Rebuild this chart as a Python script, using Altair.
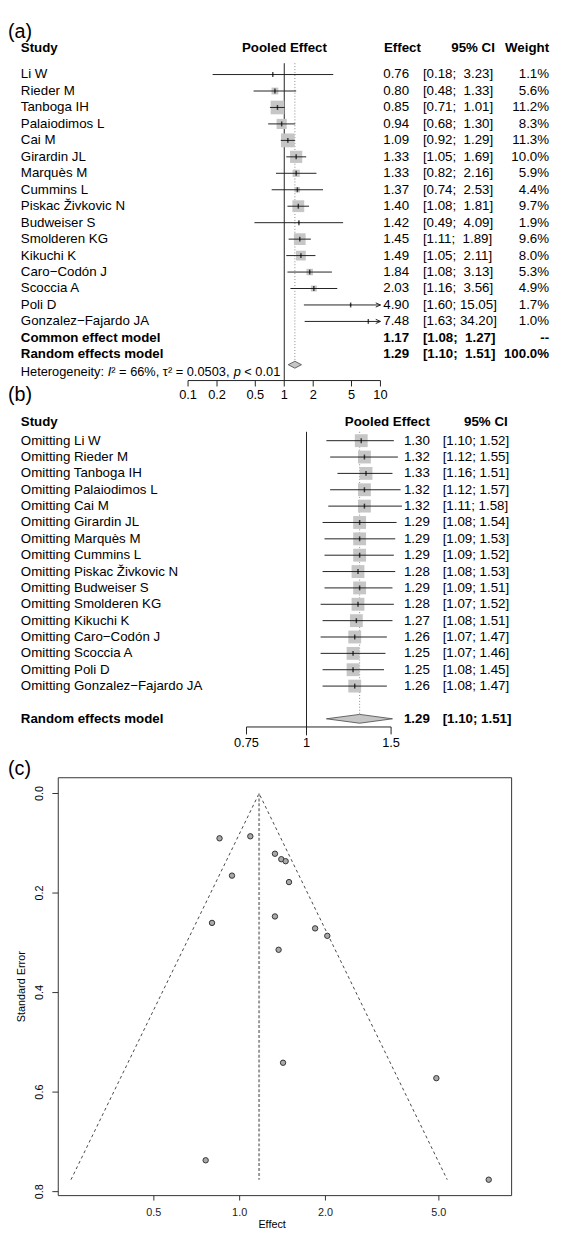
import altair as alt
import pandas as pd

FONT = "Liberation Sans"
M = 8  # body margin of the page


def px(p):
    """page pixel -> chart pixel"""
    return p - M


# ---------------- data: panel (a) ----------------
studies = ["Li W", "Rieder M", "Tanboga IH", "Palaiodimos L", "Cai M", "Girardin JL",
           "Marquès M", "Cummins L", "Piskac Živkovic N", "Budweiser S", "Smolderen KG",
           "Kikuchi K", "Caro−Codón J", "Scoccia A", "Poli D", "Gonzalez−Fajardo JA"]
effect = [0.76, 0.80, 0.85, 0.94, 1.09, 1.33, 1.33, 1.37, 1.40, 1.42, 1.45, 1.49, 1.84, 2.03, 4.90, 7.48]
ci_low = [0.18, 0.48, 0.71, 0.68, 0.92, 1.05, 0.82, 0.74, 1.08, 0.49, 1.11, 1.05, 1.08, 1.16, 1.60, 1.63]
ci_high = [3.23, 1.33, 1.01, 1.30, 1.29, 1.69, 2.16, 2.53, 1.81, 4.09, 1.89, 2.11, 3.13, 3.56, 15.05, 34.20]
weight = [1.1, 5.6, 11.2, 8.3, 11.3, 10.0, 5.9, 4.4, 9.7, 1.9, 9.6, 8.0, 5.3, 4.9, 1.7, 1.0]
std_err = [0.737, 0.260, 0.090, 0.165, 0.086, 0.121, 0.247, 0.314, 0.132, 0.541, 0.136, 0.178,
           0.271, 0.286, 0.572, 0.776]

common_model = [1.17, 1.08, 1.27]   # estimate, lower, upper
random_model = [1.29, 1.10, 1.51]
model_labels = ["Common effect model", "Random effects model"]
model_weights = ["--", "100.0%"]
# heterogeneity line, split where the italic letters are
het_parts = ["Heterogeneity:", "I", "² = 66%, τ² = 0.0503,", "p", "< 0.01"]
het_italic = [False, True, False, True, False]
null_effect = 1.0

a_ticks = [0.1, 0.2, 0.5, 1, 2, 5, 10]
a_tick_labels = ["0.1", "0.2", "0.5", "1", "2", "5", "10"]
a_headers = ["Study", "Pooled Effect", "Effect", "95% CI", "Weight"]

# ---------------- data: panel (b) ----------------
omit_effect = [1.30, 1.32, 1.33, 1.32, 1.32, 1.29, 1.29, 1.29, 1.28, 1.29, 1.28, 1.27, 1.26, 1.25, 1.25, 1.26]
omit_low = [1.10, 1.12, 1.16, 1.12, 1.11, 1.08, 1.09, 1.09, 1.08, 1.09, 1.07, 1.08, 1.07, 1.07, 1.08, 1.08]
omit_high = [1.52, 1.55, 1.51, 1.57, 1.58, 1.54, 1.53, 1.52, 1.53, 1.51, 1.52, 1.51, 1.47, 1.46, 1.45, 1.47]
b_ticks = [0.75, 1, 1.5]
b_tick_labels = ["0.75", "1", "1.5"]
b_headers = ["Study", "Pooled Effect", "95% CI"]

# ---------------- data: panel (c) ----------------
funnel_center = 1.17
funnel_se_max = 0.776
funnel_edges = [0.256, 5.35]
c_x_ticks = [0.5, 1.0, 2.0, 5.0]
c_x_labels = ["0.5", "1.0", "2.0", "5.0"]
c_y_ticks = [0.0, 0.2, 0.4, 0.6, 0.8]
c_y_labels = ["0.0", "0.2", "0.4", "0.6", "0.8"]

# ---------------- scales (pixel ranges give the layout) ----------------
XA = alt.Scale(type="log", domain=[0.1, 10], range=[px(190.7), px(385.9)], nice=False)
YA = alt.Scale(domain=[0, 1], range=[px(66.5), px(66.5 + 16.7)], nice=False, zero=False)
XB = alt.Scale(type="log", domain=[0.75, 1.5], range=[px(250), px(396.7)], nice=False)
YB = alt.Scale(domain=[0, 1], range=[px(438), px(438 + 16.6)], nice=False, zero=False)
XC_DOM = [0.231, 9.0]
YC_DOM = [-0.0317, 0.808]
XC = alt.Scale(type="log", domain=XC_DOM, range=[px(59), px(519)], nice=False)
YC = alt.Scale(domain=YC_DOM, range=[px(780), px(1204)], nice=False, zero=False)

INK = "#222222"
BOX = "#c6c6c6"


def X(f, s):
    return alt.X(f, type="quantitative", scale=s, axis=None)


def Y(f, s):
    return alt.Y(f, type="quantitative", scale=s, axis=None)


def txt(df, x, y, ys=None, align="left", size=13.5, bold=False, angle=None, italic=False, **kw):
    props = dict(align=align, baseline="middle", font=FONT, fontSize=size,
                 fontWeight="bold" if bold else "normal", color="black", **kw)
    if italic:
        props["fontStyle"] = "italic"
    if angle is not None:
        props["angle"] = angle
    enc = dict(text="t:N")
    enc["x"] = x
    enc["y"] = Y(y, ys) if ys is not None else y
    return alt.Chart(df).mark_text(**props).encode(**enc)


def fmt_ci(lo, hi, wide):
    sep = "; \u00a0" if (wide and hi < 10) else "; "
    return f"[{lo:.2f}{sep}{hi:.2f}]"


layers = []

# ======================= panel (a) =======================
dfa = pd.DataFrame({"study": studies, "eff": effect, "lo": ci_low, "hi": ci_high, "w": weight})
dfa["row"] = range(len(dfa))
dfa["hic"] = dfa["hi"].clip(upper=a_ticks[-1])
dfa["t_eff"] = [f"{v:.2f}" for v in effect]
dfa["t_ci"] = [fmt_ci(l, h, True) for l, h in zip(ci_low, ci_high)]
dfa["t_w"] = [f"{w:.1f}%" for w in weight]

layers.append(txt(pd.DataFrame({"t": ["(a)"]}), alt.value(px(8)), alt.value(px(23)), size=20))
hdr_a = pd.DataFrame({"t": a_headers, "row": [-1.6] * 5})
layers.append(txt(hdr_a.iloc[[0]], alt.value(px(21)), "row", YA, bold=True))
layers.append(txt(hdr_a.iloc[[1]], alt.value(px(288.5)), "row", YA, align="center", bold=True))
layers.append(txt(hdr_a.iloc[[2]], alt.value(px(427)), "row", YA, align="right", bold=True))
layers.append(txt(hdr_a.iloc[[3]], alt.value(px(502)), "row", YA, align="right", bold=True))
layers.append(txt(hdr_a.iloc[[4]], alt.value(px(557)), "row", YA, align="right", bold=True))

# reference lines
layers.append(alt.Chart(pd.DataFrame({"x": [null_effect]})).mark_rule(color=INK, strokeWidth=1).encode(
    x=X("x", XA), y=alt.value(px(55)), y2=alt.value(px(377))))
layers.append(alt.Chart(pd.DataFrame({"x": [random_model[0]]})).mark_rule(
    color="#888888", strokeWidth=1, strokeDash=[1, 2]).encode(
    x=X("x", XA), y=alt.value(px(55)), y2=alt.value(px(357))))

# squares, CI lines, point ticks, arrows
layers.append(alt.Chart(dfa).mark_point(shape="square", filled=True, color=BOX, opacity=1).encode(
    x=X("eff", XA), y=Y("row", YA),
    size=alt.Size("w:Q", scale=alt.Scale(type="pow", exponent=2, domain=[0, 11.3], range=[0, 196]),
                  legend=None)))
layers.append(alt.Chart(dfa).mark_rule(color=INK, strokeWidth=1).encode(
    x=X("lo", XA), x2="hic", y=Y("row", YA)))
layers.append(alt.Chart(dfa).mark_tick(orient="vertical", color="black", size=5, thickness=1.5).encode(
    x=X("eff", XA), y=Y("row", YA)))
layers.append(alt.Chart(dfa[dfa["hi"] > a_ticks[-1]]).mark_point(
    shape="M -1 -0.45 L 0 0 L -1 0.45", filled=False, color=INK, strokeWidth=1, size=90, opacity=1).encode(
    x=X("hic", XA), y=Y("row", YA)))

# study texts
layers.append(txt(dfa.assign(t=dfa["study"]), alt.value(px(21)), "row", YA))
layers.append(txt(dfa.assign(t=dfa["t_eff"]), alt.value(px(415)), "row", YA, align="right"))
layers.append(txt(dfa.assign(t=dfa["t_ci"]), alt.value(px(429)), "row", YA))
layers.append(txt(dfa.assign(t=dfa["t_w"]), alt.value(px(557)), "row", YA, align="right"))

# model rows
mods = pd.DataFrame({
    "t": model_labels, "row": [16, 17],
    "e": [f"{common_model[0]:.2f}", f"{random_model[0]:.2f}"],
    "c": [fmt_ci(common_model[1], common_model[2], True), fmt_ci(random_model[1], random_model[2], True)],
    "w": model_weights,
})
layers.append(txt(mods, alt.value(px(21)), "row", YA, bold=True))
layers.append(txt(mods.assign(t=mods["e"]), alt.value(px(415)), "row", YA, align="right", bold=True))
layers.append(txt(mods.assign(t=mods["c"]), alt.value(px(429)), "row", YA, bold=True))
layers.append(txt(mods.assign(t=mods["w"]), alt.value(px(557)), "row", YA, align="right", bold=True))

# heterogeneity line (13px; segment starts follow the glyph advance widths)
het_x = [21, 109.2, 112.8, 237.0, 247.8]
for part, ital, hx in zip(het_parts, het_italic, het_x):
    layers.append(txt(pd.DataFrame({"t": [part], "row": [18.1]}), alt.value(px(hx)), "row", YA,
                      size=13, italic=ital))

# random effects diamond
dia_row, dia_h = 17.63, 0.21
dia_a = pd.DataFrame({"x": [random_model[1], random_model[0], random_model[2]],
                      "y": [dia_row, dia_row - dia_h, dia_row],
                      "y2": [dia_row, dia_row + dia_h, dia_row]})
layers.append(alt.Chart(dia_a).mark_area(fill=BOX, stroke="#444444", strokeWidth=0.8, opacity=1).encode(
    x=X("x", XA), y=Y("y", YA), y2="y2"))

# axis (a)
axa = pd.DataFrame({"x": a_ticks, "t": a_tick_labels})
layers.append(alt.Chart(pd.DataFrame({"x": [a_ticks[0]], "x2": [a_ticks[-1]]})).mark_rule(
    color=INK, strokeWidth=1).encode(x=X("x", XA), x2="x2", y=alt.value(px(377))))
layers.append(alt.Chart(axa).mark_rule(color=INK, strokeWidth=1).encode(
    x=X("x", XA), y=alt.value(px(377)), y2=alt.value(px(383))))
layers.append(alt.Chart(axa).mark_text(font=FONT, fontSize=13, baseline="middle", align="center",
                                       color="black").encode(
    x=X("x", XA), y=alt.value(px(392)), text="t:N"))

# ======================= panel (b) =======================
dfb = pd.DataFrame({"t": ["Omitting " + s for s in studies], "eff": omit_effect, "lo": omit_low,
                    "hi": omit_high})
dfb["row"] = range(len(dfb))
dfb["t_eff"] = [f"{v:.2f}" for v in omit_effect]
dfb["t_ci"] = [fmt_ci(l, h, False) for l, h in zip(omit_low, omit_high)]

layers.append(txt(pd.DataFrame({"t": ["(b)"]}), alt.value(px(8)), alt.value(px(392)), size=20))
hdr_b = pd.DataFrame({"t": b_headers, "row": [-1.15] * 3})
layers.append(txt(hdr_b.iloc[[0]], alt.value(px(21)), "row", YB, bold=True))
layers.append(txt(hdr_b.iloc[[1]], alt.value(px(436)), "row", YB, align="right", bold=True))
layers.append(txt(hdr_b.iloc[[2]], alt.value(px(515)), "row", YB, align="right", bold=True))

layers.append(alt.Chart(pd.DataFrame({"x": [null_effect]})).mark_rule(color=INK, strokeWidth=1).encode(
    x=X("x", XB), y=alt.value(px(429)), y2=alt.value(px(737))))
layers.append(alt.Chart(pd.DataFrame({"x": [random_model[0]]})).mark_rule(
    color="#888888", strokeWidth=1, strokeDash=[1, 2]).encode(
    x=X("x", XB), y=alt.value(px(429)), y2=alt.value(px(716))))

layers.append(alt.Chart(dfb).mark_point(shape="square", filled=True, color=BOX, opacity=1, size=170).encode(
    x=X("eff", XB), y=Y("row", YB)))
layers.append(alt.Chart(dfb).mark_rule(color=INK, strokeWidth=1).encode(
    x=X("lo", XB), x2="hi", y=Y("row", YB)))
layers.append(alt.Chart(dfb).mark_tick(orient="vertical", color="black", size=5, thickness=1.5).encode(
    x=X("eff", XB), y=Y("row", YB)))

layers.append(txt(dfb, alt.value(px(21)), "row", YB))
layers.append(txt(dfb.assign(t=dfb["t_eff"]), alt.value(px(436)), "row", YB, align="right"))
layers.append(txt(dfb.assign(t=dfb["t_ci"]), alt.value(px(449)), "row", YB))

mod_b = pd.DataFrame({"t": [model_labels[1]], "row": [17],
                      "e": [f"{random_model[0]:.2f}"],
                      "c": [fmt_ci(random_model[1], random_model[2], False)]})
layers.append(txt(mod_b, alt.value(px(21)), "row", YB, bold=True))
layers.append(txt(mod_b.assign(t=mod_b["e"]), alt.value(px(436)), "row", YB, align="right", bold=True))
layers.append(txt(mod_b.assign(t=mod_b["c"]), alt.value(px(449)), "row", YB, bold=True))

dia_b_h = 0.27
dia_b = pd.DataFrame({"x": [random_model[1], random_model[0], random_model[2]],
                      "y": [17, 17 - dia_b_h, 17], "y2": [17, 17 + dia_b_h, 17]})
layers.append(alt.Chart(dia_b).mark_area(fill=BOX, stroke="#444444", strokeWidth=0.8, opacity=1).encode(
    x=X("x", XB), y=Y("y", YB), y2="y2"))

axb = pd.DataFrame({"x": b_ticks, "t": b_tick_labels})
layers.append(alt.Chart(pd.DataFrame({"x": [b_ticks[0]], "x2": [b_ticks[-1]]})).mark_rule(
    color=INK, strokeWidth=1).encode(x=X("x", XB), x2="x2", y=alt.value(px(728.5))))
layers.append(alt.Chart(axb).mark_rule(color=INK, strokeWidth=1).encode(
    x=X("x", XB), y=alt.value(px(728.5)), y2=alt.value(px(736))))
layers.append(alt.Chart(axb).mark_text(font=FONT, fontSize=13, baseline="middle", align="center",
                                       color="black").encode(
    x=X("x", XB), y=alt.value(px(745)), text="t:N"))

# ======================= panel (c) =======================
layers.append(txt(pd.DataFrame({"t": ["(c)"]}), alt.value(px(8)), alt.value(px(771)), size=20))
frame = pd.DataFrame({"x": [XC_DOM[0]], "x2": [XC_DOM[1]], "y": [YC_DOM[0]], "y2": [YC_DOM[1]]})
layers.append(alt.Chart(frame).mark_rect(filled=False, color="#333333", strokeWidth=1).encode(
    x=X("x", XC), x2="x2", y=Y("y", YC), y2="y2"))

fun = pd.DataFrame({"x": [funnel_edges[0], funnel_center, funnel_edges[1]],
                    "y": [funnel_se_max, 0.0, funnel_se_max]})
layers.append(alt.Chart(fun).mark_line(color="#333333", strokeWidth=0.9, strokeDash=[3, 3]).encode(
    x=X("x", XC), y=Y("y", YC)))
layers.append(alt.Chart(pd.DataFrame({"x": [funnel_center], "y": [0.0], "y2": [funnel_se_max]})).mark_rule(
    color="#999999", strokeWidth=2, strokeDash=[3, 2]).encode(x=X("x", XC), y=Y("y", YC), y2="y2"))

dfc = pd.DataFrame({"eff": effect, "se": std_err})
layers.append(alt.Chart(dfc).mark_point(shape="circle", filled=True, fill="#a9a9a9", stroke="#333333",
                                        strokeWidth=1, size=30, opacity=1).encode(
    x=X("eff", XC), y=Y("se", YC)))

ycx = pd.DataFrame({"y": c_y_ticks, "t": c_y_labels})
layers.append(alt.Chart(ycx).mark_rule(color="#333333", strokeWidth=1).encode(
    x=alt.value(px(53)), x2=alt.value(px(59)), y=Y("y", YC)))
layers.append(txt(ycx, alt.value(px(41)), "y", YC, align="center", size=11, angle=270))
layers.append(txt(pd.DataFrame({"t": ["Standard Error"]}), alt.value(px(22)), alt.value(px(992)),
                  align="center", size=11, angle=270))

xcx = pd.DataFrame({"x": c_x_ticks, "t": c_x_labels})
layers.append(alt.Chart(xcx).mark_rule(color="#333333", strokeWidth=1).encode(
    x=X("x", XC), y=alt.value(px(1204)), y2=alt.value(px(1209))))
layers.append(alt.Chart(xcx).mark_text(font=FONT, fontSize=11, baseline="middle", align="center",
                                       color="#222222").encode(
    x=X("x", XC), y=alt.value(px(1222)), text="t:N"))
layers.append(txt(pd.DataFrame({"t": ["Effect"]}), alt.value(px(276)), alt.value(px(1234)),
                  align="center", size=11))

chart = alt.layer(*layers).resolve_scale(
    x="independent", y="independent", size="independent"
).properties(
    width=554, height=1231, padding=0, autosize=alt.AutoSizeParams(type="none")
).configure_view(strokeWidth=0)

chart.save("out.html", embed_options={"renderer": "svg", "actions": False})
